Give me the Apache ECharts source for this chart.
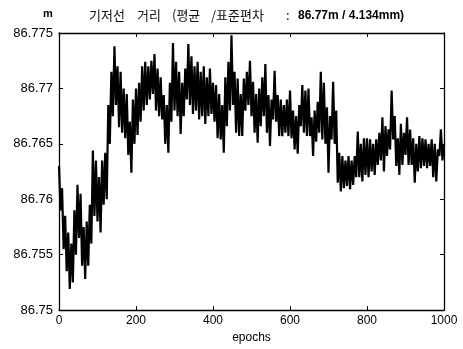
<!DOCTYPE html>
<html>
<head>
<meta charset="utf-8">
<script src="https://cdn.jsdelivr.net/npm/echarts@6/dist/echarts.min.js"></script>
<style>
  html, body { margin: 0; padding: 0; background: #fff; }
  #chart { width: 463px; height: 349px; }
</style>
</head>
<body>
<div id="chart"></div>
<script>
// Baseline length (m), sampled every 4 epochs
const epochStep = 4;
const baseline0 = [86.7630, 86.7590, 86.7610, 86.7555, 86.7585, 86.7535, 86.7570, 86.7519, 86.7560, 86.7525,
  86.7590, 86.7550, 86.7613, 86.7565, 86.7605, 86.7540, 86.7575, 86.7528, 86.7580, 86.7540,
  86.7595, 86.7560, 86.7644, 86.7585, 86.7635, 86.7580, 86.7620, 86.7570, 86.7635, 86.7595,
  86.7642, 86.7600, 86.7685, 86.7650, 86.7715, 86.7675, 86.7738, 86.7685, 86.7720, 86.7665,
  86.7715, 86.7660, 86.7700, 86.7655, 86.7695, 86.7640, 86.7670, 86.7624, 86.7690, 86.7650];
const baseline200 = [86.7700, 86.7658, 86.7705, 86.7670, 86.7720, 86.7680, 86.7724, 86.7685, 86.7720, 86.7690,
  86.7725, 86.7695, 86.7731, 86.7680, 86.7718, 86.7675, 86.7710, 86.7672, 86.7694, 86.7650,
  86.7685, 86.7642, 86.7705, 86.7670, 86.7741, 86.7680, 86.7724, 86.7675, 86.7715, 86.7659,
  86.7705, 86.7675, 86.7718, 86.7690, 86.7740, 86.7685, 86.7729, 86.7677, 86.7720, 86.7680,
  86.7724, 86.7672, 86.7715, 86.7675, 86.7720, 86.7668, 86.7710, 86.7675, 86.7718, 86.7677];
const baseline400 = [86.7705, 86.7670, 86.7703, 86.7655, 86.7695, 86.7654, 86.7685, 86.7642, 86.7710, 86.7666,
  86.7724, 86.7680, 86.7748, 86.7685, 86.7715, 86.7660, 86.7709, 86.7657, 86.7695, 86.7657,
  86.7709, 86.7680, 86.7715, 86.7685, 86.7725, 86.7675, 86.7706, 86.7660, 86.7695, 86.7651,
  86.7700, 86.7666, 86.7710, 86.7675, 86.7722, 86.7660, 86.7694, 86.7648, 86.7690, 86.7672,
  86.7716, 86.7670, 86.7694, 86.7657, 86.7690, 86.7657, 86.7685, 86.7660, 86.7690, 86.7657];
const baseline600 = [86.7698, 86.7655, 86.7680, 86.7645, 86.7675, 86.7641, 86.7685, 86.7666, 86.7703, 86.7660,
  86.7698, 86.7657, 86.7700, 86.7657, 86.7674, 86.7639, 86.7680, 86.7652, 86.7688, 86.7660,
  86.7715, 86.7654, 86.7705, 86.7650, 86.7683, 86.7624, 86.7675, 86.7654, 86.7706, 86.7650,
  86.7680, 86.7615, 86.7642, 86.7607, 86.7639, 86.7610, 86.7635, 86.7612, 86.7639, 86.7609,
  86.7635, 86.7613, 86.7639, 86.7620, 86.7661, 86.7620, 86.7650, 86.7616, 86.7655, 86.7622];
const baseline800 = [86.7655, 86.7620, 86.7654, 86.7625, 86.7650, 86.7622, 86.7654, 86.7631, 86.7660, 86.7635,
  86.7674, 86.7625, 86.7666, 86.7639, 86.7663, 86.7645, 86.7698, 86.7654, 86.7675, 86.7630,
  86.7655, 86.7622, 86.7668, 86.7631, 86.7660, 86.7640, 86.7674, 86.7631, 86.7663, 86.7631,
  86.7655, 86.7615, 86.7650, 86.7625, 86.7657, 86.7628, 86.7655, 86.7630, 86.7654, 86.7628,
  86.7650, 86.7630, 86.7654, 86.7620, 86.7650, 86.7616, 86.7645, 86.7639, 86.7663, 86.7635, 86.7650];

const xTicks = [0, 200, 400, 600, 800, 1000];
const yTicks = [86.75, 86.755, 86.76, 86.765, 86.77, 86.775];

// Title pieces: Korean words and the statistics
const titleWords = ['기저선', '거리', '(평균', '/표준편차', ':'];
const titleWordX = [89, 137, 172, 211, 286];
const titleStats = '86.77m / 4.134mm)';

const values = [].concat(baseline0, baseline200, baseline400, baseline600, baseline800);
const points = values.map((v, i) => [i * epochStep, v]);

const chart = echarts.init(document.getElementById('chart'), null, { renderer: 'canvas' });
const fontFam = 'Liberation Sans, Arial, sans-serif';
const tickStyle = { show: true, inside: true, length: 4, lineStyle: { color: '#000', width: 1 } };
const axisLine = { show: true, onZero: false, lineStyle: { color: '#000', width: 1.3 } };

const yCommon = {
  type: 'value', min: yTicks[0], max: yTicks[yTicks.length - 1], interval: 0.005,
  splitLine: { show: false }, axisLine: axisLine, axisTick: tickStyle
};
const xCommon = {
  type: 'value', min: xTicks[0], max: xTicks[xTicks.length - 1], interval: 200,
  splitLine: { show: false }, axisLine: axisLine, axisTick: tickStyle
};

const titleGraphics = titleWords.map((w, i) => ({
  type: 'text', left: titleWordX[i], top: 9,
  style: { text: w, fill: '#111', font: 'normal 13px "Noto Sans CJK KR", sans-serif' }
}));
titleGraphics.push({
  type: 'text', left: 298, top: 10,
  style: { text: titleStats, fill: '#000', font: 'bold 12px ' + fontFam }
});

chart.setOption({
  animation: false,
  backgroundColor: '#fff',
  grid: { left: 59, right: 19, top: 33, bottom: 29 },
  graphic: [
    { type: 'text', left: 43, top: 8, style: { text: 'm', fill: '#000', font: 'bold 11px ' + fontFam } }
  ].concat(titleGraphics),
  xAxis: [
    Object.assign({}, xCommon, {
      position: 'bottom',
      name: 'epochs', nameLocation: 'middle', nameGap: 20,
      nameTextStyle: { color: '#000', fontFamily: fontFam, fontSize: 12 },
      axisLabel: { margin: 5, color: '#000', fontFamily: fontFam, fontSize: 12, formatter: v => String(v) }
    }),
    Object.assign({}, xCommon, { position: 'top', axisLabel: { show: false } })
  ],
  yAxis: [
    Object.assign({}, yCommon, {
      position: 'left',
      axisLabel: { margin: 6, color: '#000', fontFamily: fontFam, fontSize: 13,
        formatter: v => String(parseFloat(v.toFixed(3))) }
    }),
    Object.assign({}, yCommon, { position: 'right', axisLabel: { show: false } })
  ],
  series: [{
    type: 'line',
    data: points,
    xAxisIndex: 0, yAxisIndex: 0,
    showSymbol: false,
    lineStyle: { color: '#000', width: 2.2 },
    clip: true
  }]
});
</script>
</body>
</html>
